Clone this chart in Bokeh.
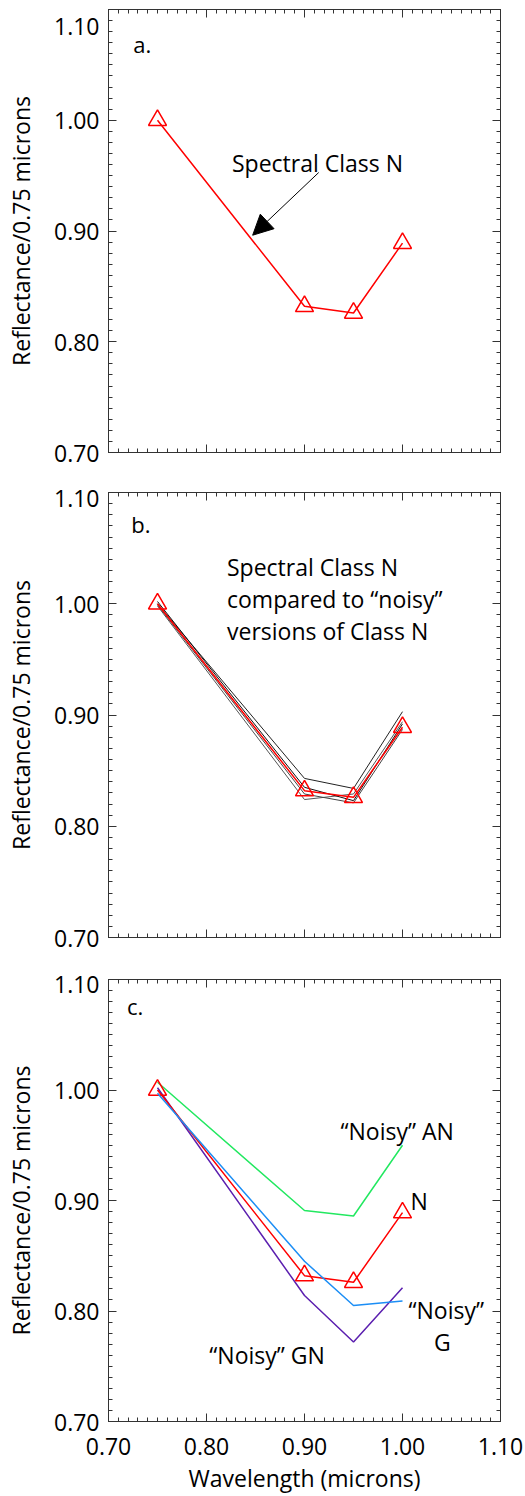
from bokeh.plotting import figure
from bokeh.layouts import column
from bokeh.models import (Range1d, FixedTicker, LinearAxis, Arrow, NormalHead, Label,
                          NumeralTickFormatter, CustomJSTickFormatter)
from bokeh.embed import file_html
from bokeh.resources import INLINE

# Reflectance spectra, normalised at 0.75 microns
wavelength = [0.75, 0.90, 0.95, 1.00]
class_n = [1.000, 0.832, 0.826, 0.889]

# "noisy" realisations of class N
noisy_n_1 = [1.000, 0.843, 0.834, 0.903]
noisy_n_2 = [0.998, 0.824, 0.829, 0.894]
noisy_n_3 = [1.002, 0.835, 0.823, 0.892]
noisy_n_4 = [0.999, 0.829, 0.821, 0.887]

# noisy versions that were classified as other classes
noisy_an = [1.007, 0.891, 0.886, 0.950]
noisy_g = [0.997, 0.845, 0.805, 0.809]
noisy_gn = [1.002, 0.814, 0.772, 0.821]

axis_ticks = [0.70, 0.80, 0.90, 1.00, 1.10]
tick_labels = ["0.70", "0.80", "0.90", "1.00", "1.10"]
minor_ticks = [round(0.70 + 0.01 * i, 2) for i in range(41)]

FONT = "Open Sans"
INK = "#333333"
RED = "#ff0000"
TEXT_SIZE = "23px"


def style_axis(ax, labels=None):
    ax.ticker = FixedTicker(ticks=axis_ticks, minor_ticks=minor_ticks)
    ax.axis_line_color = INK
    ax.major_tick_line_color = INK
    ax.minor_tick_line_color = INK
    ax.major_tick_in = 8
    ax.major_tick_out = 0
    ax.minor_tick_in = 4
    ax.minor_tick_out = 0
    if labels is not None:
        ax.formatter = NumeralTickFormatter(format="0.00")
        ax.major_label_overrides = labels
        ax.major_label_text_font = FONT
        ax.major_label_text_font_size = TEXT_SIZE
        ax.major_label_text_color = "black"
        ax.major_label_standoff = 9
    else:
        ax.formatter = CustomJSTickFormatter(code="return ''")
        ax.major_label_text_font_size = "1px"
        ax.major_label_standoff = 0


def make_panel(height, top, bottom, x_labels):
    p = figure(width=525, height=height,
               x_range=Range1d(0.7, 1.1), y_range=Range1d(0.7, 1.1),
               x_axis_type=None, y_axis_type=None,
               output_backend="svg", toolbar_location=None,
               min_border_left=108, min_border_right=25,
               min_border_top=top, min_border_bottom=bottom)
    p.outline_line_color = INK
    p.background_fill_color = "white"
    p.border_fill_color = "white"

    # the top value is dropped a little (short leading line) so it stays inside
    # the frame's height
    y_labels = dict(zip(axis_ticks, tick_labels))
    y_labels[axis_ticks[-1]] = "\n" + tick_labels[-1]
    left = LinearAxis()
    style_axis(left, y_labels)
    left.major_label_text_line_height = 0.3
    left.axis_label = "Reflectance/0.75 microns"
    left.axis_label_text_font = FONT
    left.axis_label_text_font_size = TEXT_SIZE
    left.axis_label_text_font_style = "normal"
    left.axis_label_text_color = "black"
    left.axis_label_standoff = 14
    p.add_layout(left, "left")

    bottom_ax = LinearAxis()
    if x_labels:
        style_axis(bottom_ax, dict(zip(axis_ticks, tick_labels)))
        bottom_ax.major_label_standoff = 16
        bottom_ax.axis_label = "Wavelength (microns)"
        bottom_ax.axis_label_text_font = FONT
        bottom_ax.axis_label_text_font_size = TEXT_SIZE
        bottom_ax.axis_label_text_font_style = "normal"
        bottom_ax.axis_label_text_color = "black"
        bottom_ax.axis_label_standoff = 4
    else:
        style_axis(bottom_ax)
    p.add_layout(bottom_ax, "below")

    for side in ("above", "right"):
        ax = LinearAxis()
        style_axis(ax)
        p.add_layout(ax, side)
    return p


def add_text(p, x, y, text, size=TEXT_SIZE, align="left"):
    p.add_layout(Label(x=x, y=y, text=text, text_font=FONT, text_font_size=size,
                       text_color="black", text_baseline="alphabetic", text_align=align))


def draw_class_n(p):
    p.line(wavelength, class_n, line_color=RED, line_width=1.5)
    p.scatter(wavelength, class_n, marker="triangle", size=18,
              line_color=RED, line_width=1.5, fill_color=None)


# a. the class N spectrum
pa = make_panel(472, 9, 20, False)
draw_class_n(pa)
add_text(pa, 0.7252, 1.0693, "a.", size="22px")
add_text(pa, 0.826, 0.9618, "Spectral Class N")
pa.add_layout(Arrow(end=NormalHead(size=20, fill_color="black", line_color="black"),
                    x_start=0.9145, y_start=0.9528, x_end=0.8471, y_end=0.8962,
                    line_color="black", line_width=1))

# b. class N against its noisy versions
pb = make_panel(486, 20, 21, False)
for series, colour in ((noisy_n_1, "#222222"), (noisy_n_2, "#555555"),
                       (noisy_n_3, "#111111"), (noisy_n_4, "#444444")):
    pb.line(wavelength, series, line_color=colour, line_width=1)
draw_class_n(pb)
add_text(pb, 0.7232, 1.0715, "b.", size="22px")
for i, line in enumerate(["Spectral Class N", "compared to \u201cnoisy\u201d", "versions of Class N"]):
    add_text(pb, 0.8209, 1.0326 - i * 0.0286, line)

# c. noisy spectra that fall into other classes
pc = make_panel(538, 21, 74, True)
pc.line(wavelength, noisy_an, line_color="#22e860", line_width=1.5)
pc.line(wavelength, noisy_gn, line_color="#5b1faf", line_width=1.5)
draw_class_n(pc)
pc.line(wavelength, noisy_g, line_color="#1c8ef5", line_width=1.5)
add_text(pc, 0.7188, 1.0756, "c.", size="22px")
add_text(pc, 0.9367, 0.9628, "\u201cNoisy\u201d AN")
add_text(pc, 1.0081, 0.8998, "N")
add_text(pc, 1.0061, 0.8011, "\u201cNoisy\u201d")
add_text(pc, 1.0406, 0.7722, "G", align="center")
add_text(pc, 0.8029, 0.7605, "\u201cNoisy\u201d GN")

layout = column(pa, pb, pc, spacing=0)
open("out.html", "w").write(file_html(layout, INLINE))
